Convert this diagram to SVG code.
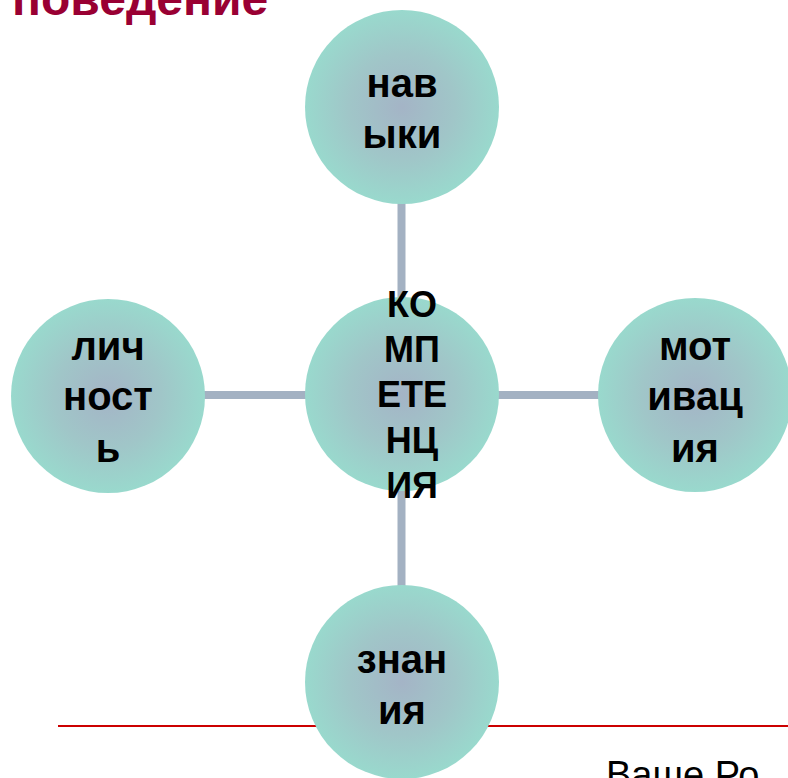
<svg xmlns="http://www.w3.org/2000/svg" width="788" height="778" viewBox="0 0 788 778">
<defs>
<radialGradient id="g" cx="50%" cy="50%" r="50%">
<stop offset="0" stop-color="#a4b4c6"/>
<stop offset="0.55" stop-color="#a0c6c8"/>
<stop offset="1" stop-color="#99d9cd"/>
</radialGradient>
<style>
.c{fill:url(#g)}
.t{font-family:"Liberation Sans",Arial,sans-serif;font-weight:bold;font-size:40px;fill:#000;text-anchor:middle}
.tc{font-family:"Liberation Sans",Arial,sans-serif;font-weight:bold;font-size:36px;fill:#000;text-anchor:middle}
.e{stroke:#a3b1c2;stroke-width:8;fill:none}
</style>
</defs>
<rect width="788" height="778" fill="#fff"/>
<text x="12" y="15" font-family="Liberation Sans,Arial,sans-serif" font-weight="bold" font-size="48" fill="#990033">поведение</text>
<line x1="58" y1="726" x2="788" y2="726" stroke="#cc0000" stroke-width="2"/>
<text x="606" y="788" font-family="Liberation Sans,Arial,sans-serif" font-size="38" fill="#000">Ваше Ро</text>
<g id="connectors">
<line class="e" x1="401.5" y1="200" x2="401.5" y2="300"/>
<line class="e" x1="401.5" y1="488" x2="401.5" y2="590"/>
<line class="e" x1="200" y1="395" x2="306" y2="395"/>
<line class="e" x1="498" y1="395" x2="600" y2="395"/>
</g>
<g id="top"><circle class="c" cx="402" cy="107" r="97"/><text class="t" x="402" y="97">нав</text><text class="t" x="402" y="148">ыки</text></g>
<g id="left"><circle class="c" cx="108" cy="396" r="97"/><text class="t" x="108" y="360">лич</text><text class="t" x="108" y="410">ност</text><text class="t" x="108" y="462">ь</text></g>
<g id="right"><circle class="c" cx="695" cy="395" r="97"/><text class="t" x="695" y="360">мот</text><text class="t" x="695" y="410">ивац</text><text class="t" x="695" y="462">ия</text></g>
<g id="bottom"><circle class="c" cx="402" cy="682" r="97"/><text class="t" x="402" y="673">знан</text><text class="t" x="402" y="724">ия</text></g>
<g id="center"><circle class="c" cx="402" cy="394" r="97"/><text class="tc" x="412" y="317">КО</text><text class="tc" x="412" y="362">МП</text><text class="tc" x="412" y="407">ЕТЕ</text><text class="tc" x="412" y="453">НЦ</text><text class="tc" x="412" y="498">ИЯ</text></g>
</svg>
